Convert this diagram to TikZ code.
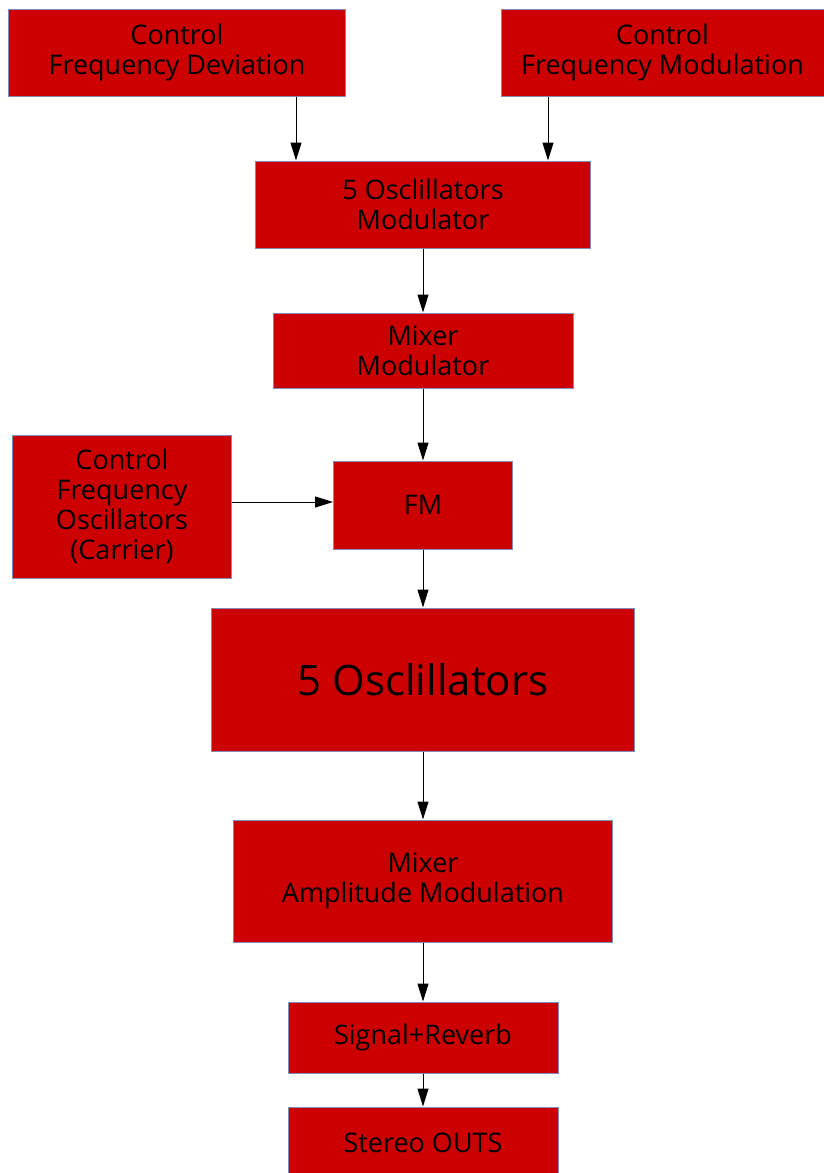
\documentclass[tikz,border=0pt]{standalone}
\usepackage{fontspec}
\setmainfont{Open Sans}
\usetikzlibrary{arrows.meta}
\definecolor{boxred}{HTML}{CC0000}
\definecolor{boxline}{HTML}{7F8DBA}
\tikzset{
  block/.style={draw=boxline, line width=1bp, fill=boxred, inner sep=0pt,
    align=center, font=\fontsize{27bp}{30bp}\selectfont},
  arr/.style={line width=1bp, -{Triangle[length=18bp,width=11bp]}}
}

\begin{document}
\begin{tikzpicture}[x=1bp,y=-1bp]
			%%%%% START %%%%%
			\useasboundingbox (0,0) rectangle (824,1173);
			
			\node[block, minimum width=336bp, minimum height=87bp] (cfd) at (177,52.5) {Control\\Frequency Deviation};
			\node[block, minimum width=323bp, minimum height=87bp] (cfm) at (662.5,52.5) {Control\\Frequency Modulation};
			
			\node[block, minimum width=335bp, minimum height=87bp] (oscmod) at (423,204.5) {5 Osclillators\\Modulator};
			\node[block, minimum width=300bp, minimum height=75bp] (mixmod) at (423,350.5) {Mixer\\Modulator};
			
			\node[block, minimum width=218bp, minimum height=143bp] (carrier) at (122,506.5) {Control\\Frequency\\Oscillators\\(Carrier)};
			\node[block, minimum width=179bp, minimum height=88bp] (fm) at (423,505) {FM};
			
			\node[block, minimum width=423bp, minimum height=143bp, font=\fontsize{42bp}{48bp}\selectfont] (osc) at (423,679.5) {5 Osclillators};
			\node[block, minimum width=379bp, minimum height=122bp] (mixam) at (423,881) {Mixer\\Amplitude Modulation};
			
			\node[block, minimum width=270bp, minimum height=71bp] (reverb) at (423,1037.5) {Signal+Reverb};
			\node[block, minimum width=270bp, minimum height=71bp] (outs) at (423,1142.5) {Stereo OUTS};
			
			\coordinate (tapL) at (296,0);
			\coordinate (tapR) at (548,0);
			
			\draw[arr] (cfd.south -| tapL) -- (oscmod.north -| tapL);
			\draw[arr] (cfm.south -| tapR) -- (oscmod.north -| tapR);
			\draw[arr] (oscmod) -- (mixmod);
			\draw[arr] (mixmod) -- (fm);
			\draw[arr] (carrier.east |- 0,502) -- (fm.west |- 0,502);
			\draw[arr] (fm) -- (osc);
			\draw[arr] (osc) -- (mixam);
			\draw[arr] (mixam) -- (reverb);
			\draw[arr] (reverb) -- (outs);
			
			%%%%% END %%%%%
\end{tikzpicture}
\end{document}
